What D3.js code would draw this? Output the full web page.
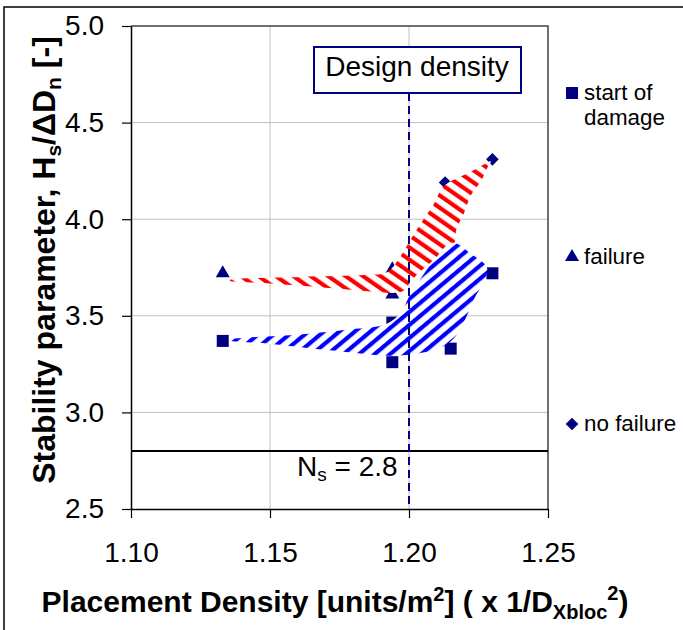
<!DOCTYPE html>
<html>
<head>
<meta charset="utf-8">
<script src="https://cdn.jsdelivr.net/npm/d3@7"></script>
<style>
  body { margin: 0; background: #fff; }
  svg { display: block; font-family: "Liberation Sans", Arial, sans-serif; }
</style>
</head>
<body>
<svg id="chart" width="683" height="630"></svg>
<script>
// Axis ticks
const xTicks = [1.10, 1.15, 1.20, 1.25];
const yTicks = [2.5, 3.0, 3.5, 4.0, 4.5, 5.0];

// Measured stability per placement density
const damageX    = [1.133, 1.194, 1.194, 1.215, 1.230];
const damageY    = [3.37, 3.26, 3.465, 3.33, 3.72];
const failureX   = [1.133, 1.194, 1.194];
const failureY   = [3.72, 3.74, 3.61];
const noFailureX = [1.213, 1.230];
const noFailureY = [4.19, 4.31];

// Hatched envelopes (outline points, density / stability)
const failureBand = [
  [1.1356, 3.685], [1.1608, 3.701], [1.1849, 3.712], [1.1921, 3.725],
  [1.1970, 3.810], [1.2008, 3.900], [1.2050, 3.995], [1.2088, 4.075],
  [1.2125, 4.170], [1.2215, 4.240], [1.2295, 4.300],
  [1.2285, 4.275], [1.2260, 4.200], [1.2225, 4.130], [1.2198, 4.032],
  [1.2170, 3.944], [1.2160, 3.866], [1.2080, 3.779], [1.2010, 3.685],
  [1.1980, 3.630], [1.1932, 3.618], [1.1906, 3.620], [1.1727, 3.642],
  [1.1489, 3.668], [1.1356, 3.682]
];
const damageBand = [
  [1.1356, 3.376], [1.1608, 3.403], [1.1788, 3.430], [1.1918, 3.458],
  [1.1970, 3.514], [1.2000, 3.597], [1.2046, 3.701], [1.2084, 3.775],
  [1.2155, 3.878], [1.2225, 3.818], [1.2280, 3.750], [1.2272, 3.685],
  [1.2236, 3.592], [1.2214, 3.520], [1.2178, 3.416], [1.2140, 3.355],
  [1.2076, 3.318], [1.2014, 3.302], [1.1932, 3.293], [1.1727, 3.320],
  [1.1489, 3.357], [1.1356, 3.372]
];

const designDensity = 1.20;
const nsValue = 2.8;
const legendLabels = [["start of", "damage"], ["failure"], ["no failure"]];
const legendShapes = ["square", "triangle", "diamond"];

const NAVY = "#000080";
const svg = d3.select("#chart");

const plot = { left: 131, right: 548, top: 26, bottom: 509 };
const x = d3.scaleLinear().domain([xTicks[0], xTicks[xTicks.length - 1]]).range([plot.left, plot.right]);
const y = d3.scaleLinear().domain([yTicks[0], yTicks[yTicks.length - 1]]).range([plot.bottom, plot.top]);

// outer frame
svg.append("rect")
  .attr("x", 4).attr("y", 7).attr("width", 760).attr("height", 700)
  .attr("fill", "none").attr("stroke", "#000").attr("stroke-width", 1.5);

// hatch patterns
const defs = svg.append("defs");
function hatch(id, color, angle, period, width) {
  const p = defs.append("pattern").attr("id", id)
    .attr("patternUnits", "userSpaceOnUse")
    .attr("width", period).attr("height", period)
    .attr("patternTransform", `rotate(${angle})`);
  p.append("rect").attr("width", period).attr("height", period).attr("fill", "#fff");
  p.append("rect").attr("width", width).attr("height", period).attr("fill", color);
}
hatch("hatchRed", "#ff0000", -55, 10, 4.2);
hatch("hatchBlue", "#0000ff", 50, 10, 4.2);

// gridlines
const grid = svg.append("g").attr("stroke", "#c0c0c0").attr("stroke-width", 1);
grid.selectAll("line.v").data(xTicks.slice(1, -1)).join("line")
  .attr("x1", d => x(d)).attr("x2", d => x(d))
  .attr("y1", plot.top).attr("y2", plot.bottom);
grid.selectAll("line.h").data(yTicks.slice(1, -1)).join("line")
  .attr("x1", plot.left).attr("x2", plot.right)
  .attr("y1", d => y(d)).attr("y2", d => y(d));

// top and right border of the plot area
svg.append("path")
  .attr("d", `M${plot.left},${plot.top}H${plot.right}V${plot.bottom}`)
  .attr("fill", "none").attr("stroke", "#404040").attr("stroke-width", 1.5);

// axes
const yAxis = svg.append("g").attr("transform", `translate(${plot.left},0)`)
  .call(d3.axisLeft(y).tickValues(yTicks).tickFormat(d3.format(".1f")).tickSize(9).tickSizeOuter(0).tickPadding(18));
const xAxis = svg.append("g").attr("transform", `translate(0,${plot.bottom})`)
  .call(d3.axisBottom(x).tickValues(xTicks).tickFormat(d3.format(".2f")).tickSize(9).tickSizeOuter(0).tickPadding(24));
[yAxis, xAxis].forEach(a => {
  a.select(".domain").attr("stroke", "#000").attr("stroke-width", 1.5);
  a.selectAll(".tick line").attr("stroke", "#000").attr("stroke-width", 1.2);
  a.selectAll(".tick text").attr("font-size", 28).attr("fill", "#000")
    .attr("font-family", "Liberation Sans, Arial, sans-serif");
});

// Ns reference line
svg.append("line")
  .attr("x1", plot.left).attr("x2", plot.right)
  .attr("y1", y(nsValue)).attr("y2", y(nsValue))
  .attr("stroke", "#000").attr("stroke-width", 2);
const ns = svg.append("text").attr("x", 297).attr("y", y(nsValue) + 25)
  .attr("font-size", 28).attr("fill", "#000");
ns.append("tspan").text("N");
ns.append("tspan").attr("font-size", 19).attr("dy", 5).text("s");
ns.append("tspan").attr("dy", -5).text(` = ${nsValue}`);

// markers
function symbolPath(shape) {
  if (shape === "square") return d3.symbol(d3.symbolSquare, 144)();
  if (shape === "triangle") return d3.symbol(d3.symbolTriangle, 85)();
  return d3.symbol(d3.symbolSquare, 80)();
}
function drawMarkers(xs, ys, shape) {
  svg.append("g").selectAll("path").data(xs.map((d, i) => [d, ys[i]])).join("path")
    .attr("d", symbolPath(shape))
    .attr("transform", d => `translate(${x(d[0])},${y(d[1])})` + (shape === "diamond" ? " rotate(45)" : ""))
    .attr("fill", NAVY);
}
drawMarkers(damageX, damageY, "square");
drawMarkers(failureX, failureY, "triangle");
drawMarkers(noFailureX, noFailureY, "diamond");

// hatched envelopes
const bandLine = d3.line().x(d => x(d[0])).y(d => y(d[1])).curve(d3.curveCatmullRomClosed.alpha(0.5));
svg.append("path").attr("d", bandLine(failureBand)).attr("fill", "url(#hatchRed)");
svg.append("path").attr("d", bandLine(damageBand)).attr("fill", "url(#hatchBlue)");

// design density marker line and label box
const boxTop = 47, boxBottom = 93;
svg.append("line")
  .attr("x1", x(designDensity)).attr("x2", x(designDensity))
  .attr("y1", boxBottom).attr("y2", plot.bottom)
  .attr("stroke", NAVY).attr("stroke-width", 2).attr("stroke-dasharray", "8,5");
svg.append("rect").attr("x", 314).attr("y", boxTop).attr("width", 207).attr("height", boxBottom - boxTop)
  .attr("fill", "#fff").attr("stroke", NAVY).attr("stroke-width", 2);
svg.append("text").attr("x", 417).attr("y", 76).attr("text-anchor", "middle")
  .attr("font-size", 28).attr("fill", "#000").text("Design density");

// legend
const legendRows = [93, 257, 424];
legendLabels.forEach((lines, i) => {
  const cy = legendRows[i];
  svg.append("path").attr("d", symbolPath(legendShapes[i]))
    .attr("transform", `translate(572,${cy})` + (legendShapes[i] === "diamond" ? " rotate(45)" : ""))
    .attr("fill", NAVY);
  const t = svg.append("text").attr("x", 584).attr("y", cy + 7).attr("font-size", 22.4).attr("fill", "#000");
  lines.forEach((s, j) => t.append("tspan").attr("x", 584).attr("dy", j ? 25 : 0).text(s));
});

// y axis title
const yt = svg.append("text")
  .attr("transform", `translate(55,260) rotate(-90)`)
  .attr("text-anchor", "middle").attr("font-size", 32).attr("font-weight", "bold").attr("fill", "#000");
yt.append("tspan").text("Stability parameter, H");
yt.append("tspan").attr("font-size", 21).attr("dy", 6).text("s");
yt.append("tspan").attr("dy", -6).text("/ΔD");
yt.append("tspan").attr("font-size", 21).attr("dy", 6).text("n");
yt.append("tspan").attr("dy", -6).text(" [-]");

// x axis title
const xt = svg.append("text")
  .attr("x", 335).attr("y", 612).attr("text-anchor", "middle")
  .attr("font-size", 30).attr("font-weight", "bold").attr("fill", "#000");
xt.append("tspan").text("Placement Density [units/m");
xt.append("tspan").attr("font-size", 20).attr("dy", -11).text("2");
xt.append("tspan").attr("dy", 11).text("] ( x 1/D");
xt.append("tspan").attr("font-size", 20).attr("dy", 7).text("Xbloc");
xt.append("tspan").attr("font-size", 20).attr("dy", -19).text("2");
xt.append("tspan").attr("dy", 12).text(")");
</script>
</body>
</html>
